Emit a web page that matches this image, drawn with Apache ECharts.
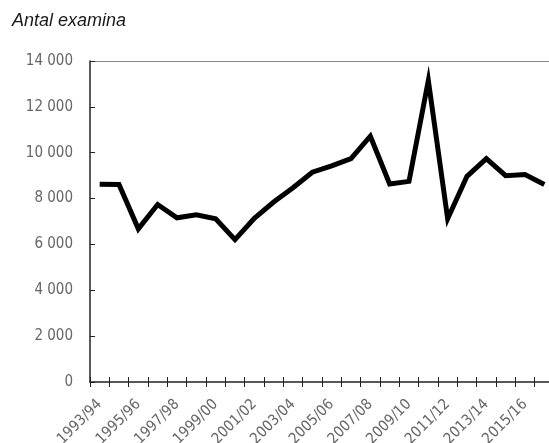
<!DOCTYPE html>
<html>
<head>
<meta charset="utf-8">
<script src="https://cdn.jsdelivr.net/npm/echarts@6/dist/echarts.min.js"></script>
<style>
html,body{margin:0;padding:0;background:#fff;}
#c{width:549px;height:443px;}
</style>
</head>
<body>
<div id="c"></div>
<script>
const titleText = 'Antal examina';
const categories = ['1993/94','1994/95','1995/96','1996/97','1997/98','1998/99','1999/00','2000/01','2001/02','2002/03','2003/04','2004/05','2005/06','2006/07','2007/08','2008/09','2009/10','2010/11','2011/12','2012/13','2013/14','2014/15','2015/16','2016/17'];
const examina = [8620, 8610, 6680, 7740, 7160, 7290, 7120, 6210, 7140, 7850, 8470, 9150, 9430, 9740, 10720, 8640, 8750, 13150, 7120, 8970, 9740, 9000, 9050, 8610];
const yTicks = [0, 2000, 4000, 6000, 8000, 10000, 12000, 14000];

const FONT = '"DejaVu Sans Condensed", Roboto, sans-serif';
const chart = echarts.init(document.getElementById('c'), null, {renderer: 'canvas'});
const fmt = v => String(v).replace(/\B(?=(\d{3})+(?!\d))/g, ' ');
chart.setOption({
  animation: false,
  title: {
    text: titleText,
    left: 7, top: 7,
    textStyle: {fontFamily: 'Liberation Sans', fontStyle: 'italic', fontWeight: 'normal', fontSize: 18, color: '#1a1a1a'}
  },
  grid: {left: 90, top: 61, width: 464, bottom: 61, containLabel: false, outerBoundsMode: 'none'},
  xAxis: [{
    type: 'category',
    data: categories,
    boundaryGap: true,
    axisLine: {lineStyle: {color: '#222', width: 1.5}},
    axisTick: {show: true, length: 5, inside: true, interval: 0, lineStyle: {color: '#222'}},
    axisLabel: {interval: 1, rotate: 45, fontFamily: FONT, fontSize: 15, color: '#666', margin: 20}
  }, {
    type: 'category',
    data: categories,
    position: 'bottom',
    offset: 0,
    axisLine: {show: false},
    axisTick: {show: true, length: 5, inside: false, interval: 0, lineStyle: {color: '#222'}},
    axisLabel: {show: false}
  }, {
    type: 'category',
    data: categories,
    position: 'top',
    axisLine: {show: true, lineStyle: {color: '#888', width: 1}},
    axisTick: {show: false},
    axisLabel: {show: false}
  }],
  yAxis: {
    type: 'value',
    min: yTicks[0], max: yTicks[yTicks.length - 1], interval: 2000,
    axisLine: {show: true, lineStyle: {color: '#222', width: 1.5}},
    axisTick: {show: true, inside: true, length: 5, lineStyle: {color: '#222'}},
    splitLine: {show: false},
    axisLabel: {formatter: fmt, fontFamily: FONT, fontSize: 15, color: '#666', margin: 17}
  },
  series: [{
    type: 'line',
    data: examina,
    symbol: 'none',
    lineStyle: {color: '#000', width: 5, join: 'miter'},
    xAxisIndex: 0
  }]
});
</script>
</body>
</html>
